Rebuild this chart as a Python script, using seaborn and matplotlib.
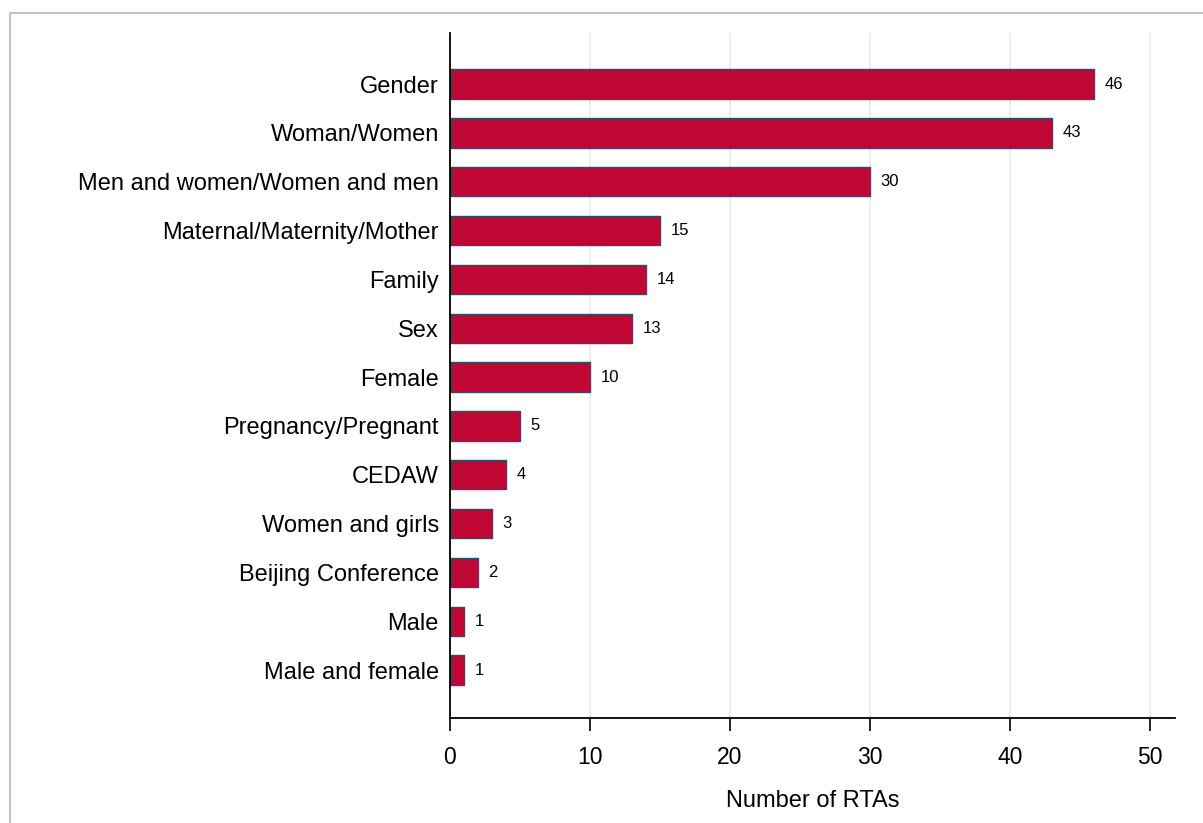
import matplotlib
matplotlib.use('Agg')
import matplotlib.pyplot as plt
import seaborn as sns
import pandas as pd
from matplotlib.patches import Rectangle

# Terms found in RTAs
terms = ['Gender', 'Woman/Women', 'Men and women/Women and men',
         'Maternal/Maternity/Mother', 'Family', 'Sex', 'Female',
         'Pregnancy/Pregnant', 'CEDAW', 'Women and girls',
         'Beijing Conference', 'Male', 'Male and female']
counts = [46, 43, 30, 15, 14, 13, 10, 5, 4, 3, 2, 1, 1]
x_ticks = [0, 10, 20, 30, 40, 50]

df = pd.DataFrame({'term': terms, 'count': counts})

sns.set_style('white')
plt.rcParams['font.family'] = ['Liberation Sans', 'DejaVu Sans']
plt.rcParams['text.color'] = 'black'
plt.rcParams['xtick.color'] = 'black'
plt.rcParams['ytick.color'] = 'black'
plt.rcParams['axes.labelcolor'] = 'black'

fig = plt.figure(figsize=(12.03, 8.23), dpi=100)
ax = fig.add_axes([450 / 1203, 1 - 718 / 823, 725 / 1203, 685 / 823])

# light vertical grid behind bars
for t in x_ticks[1:]:
    ax.axvline(t, color='#e4edf1', lw=1.3, zorder=0)

sns.barplot(data=df, y='term', x='count', orient='h', color='#c00633',
            saturation=1, width=0.6, edgecolor='#34496b', linewidth=1.0,
            ax=ax, zorder=2)

for i, v in enumerate(counts):
    ax.text(v + 0.75, i, str(v), va='center', ha='left', fontsize=12, color='black')

ax.set_xlim(0, 51.8)
ax.set_ylim(12.98, -1.045)
ax.set_xticks(x_ticks)
ax.set_ylabel('')
ax.set_xlabel('Number of RTAs', fontsize=17, labelpad=15)
ax.tick_params(axis='x', length=9, width=1.2, direction='out', labelsize=16.5, pad=11.5, bottom=True)
ax.tick_params(axis='y', length=0, labelsize=17, pad=8)

for s in ['top', 'right']:
    ax.spines[s].set_visible(False)
for s in ['left', 'bottom']:
    ax.spines[s].set_color('black')
    ax.spines[s].set_linewidth(1.3)

# gray frame around the figure
fig.patches.append(Rectangle((10 / 1203, -0.05), 1.1, 1 - 13 / 823 + 0.05,
                             transform=fig.transFigure, fill=False,
                             edgecolor='#c4c4c4', lw=1.5))

fig.savefig('out.png', dpi=100)
